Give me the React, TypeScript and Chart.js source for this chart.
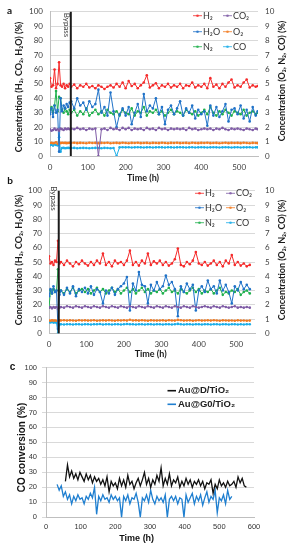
import React, { useEffect, useRef } from 'react';
import { Chart, registerables } from 'chart.js';
Chart.register(...registerables);

// ---------------- tick labels ----------------
const xTicksAB = [0, 100, 200, 300, 400, 500];
const xTicksC = [0, 100, 200, 300, 400, 500, 600];

// ---------------- Panel a data ----------------
const timeA = [
  0, 4, 8, 12, 16, 20, 24, 28, 32, 36, 40, 44, 48, 52,
  56, 64, 72, 80, 88, 96, 104, 112, 120,
  128, 136, 144, 152, 160, 168, 176, 184, 192,
  200, 208, 216, 224, 232, 240, 248, 256, 264,
  272, 280, 288, 296, 304, 312, 320, 328, 336,
  344, 352, 360, 368, 376, 384, 392, 400, 408,
  416, 424, 432, 440, 448, 456, 464, 472, 480,
  488, 496, 504, 512, 520, 528, 536, 544, 549,
];
const h2A = [
  54, 48, 49, 60, 47, 50, 65, 49, 48, 50, 47, 49, 48, 50,
  48, 49.5, 47, 49, 48, 50, 47.5, 48.5, 47,
  49, 48, 46.5, 48, 49, 47.5, 50, 48, 51,
  47, 52, 48.5, 50, 47, 49, 51, 56, 47.5,
  49, 50.5, 47, 49, 48, 50, 47.5, 49, 48,
  50, 47, 49, 48.5, 51, 47.5, 49, 48, 50,
  47, 54, 48, 49.5, 47, 50, 48, 51, 53,
  47.5, 49, 48, 51, 53, 47.5, 49, 48, 48.5,
];
const co2A = [
  18.5, 17.5, 18, 19, 18, 18.5, 17.5, 19, 18.5, 18, 19, 18.5, 19, 18.5,
  19, 18.5, 19.5, 18.5, 19, 18, 19, 18.5, 19,
  0, 18.5, 19, 18, 19.5, 18.5, 19, 18, 19.5,
  18.5, 19.5, 18, 19, 18.5, 19, 18, 19.5, 18.5,
  19, 18, 19.5, 18.5, 19, 18, 19, 18.5, 19,
  18.5, 19, 18, 19.5, 18.5, 19, 18, 18.5, 19,
  18.5, 19, 18, 19, 18.5, 19.5, 18.5, 18, 19,
  18.5, 19, 18.5, 18, 19, 18.5, 18, 19, 18.5,
];
const h2oA = [
  29, 33, 27, 35, 30, 32, 3, 40, 31, 35, 33, 36, 34, 37,
  38, 33, 40, 35, 37, 32, 38, 34, 36,
  46, 30, 34, 28, 44, 31, 20, 29, 33,
  28, 34, 22, 30, 36, 27, 43, 31, 35,
  33, 40, 29, 34, 22, 32, 35, 29, 33,
  38, 28, 33, 30, 35, 26, 32, 29, 31,
  21, 35, 28, 34, 27, 31, 36, 24, 32,
  33, 29, 35, 26, 32, 24, 34, 28, 31,
];
const o2A = [
  0.9, 0.92, 0.88, 0.9, 0.95, 0.85, 1.0, 0.88, 0.92, 0.9, 0.91, 0.89, 0.9, 0.92,
  0.9, 0.92, 0.89, 0.91, 0.9, 0.88, 0.92, 0.9, 0.91,
  0.89, 0.91, 0.9, 0.92, 0.88, 0.9, 0.91, 0.89, 0.92,
  0.9, 0.88, 0.91, 0.9, 0.92, 0.89, 0.9, 0.91, 0.88,
  0.91, 0.9, 0.89, 0.92, 0.9, 0.88, 0.91, 0.9, 0.92,
  0.89, 0.9, 0.91, 0.88, 0.92, 0.9, 0.89, 0.91, 0.9,
  0.92, 0.89, 0.9, 0.91, 0.88, 0.9, 0.92, 0.89, 0.91,
  0.9, 0.91, 0.89, 0.92, 0.9, 0.88, 0.91, 0.9, 0.89,
];
const n2A = [
  3.2, 3.4, 3.0, 3.5, 4.5, 3.1, 4.1, 4.0, 3.2, 3.0, 3.3, 3.1, 2.9, 3.2,
  3.0, 3.2, 2.8, 3.1, 2.9, 3.3, 2.8, 3.0, 3.2,
  2.9, 3.1, 2.8, 3.2, 3.0, 2.9, 3.1, 2.8, 3.2,
  3.0, 2.9, 3.3, 2.8, 3.1, 3.0, 3.4, 2.8, 3.1,
  3.0, 3.2, 2.9, 3.1, 2.8, 3.0, 3.2, 2.9, 3.1,
  3.0, 2.8, 3.2, 3.0, 2.9, 3.1, 2.8, 3.0, 3.2,
  2.9, 3.4, 3.0, 2.8, 3.1, 2.9, 3.2, 3.0, 2.8,
  3.1, 3.0, 2.9, 3.2, 2.8, 3.0, 3.1, 2.9, 3.0,
];
const coA = [
  0.75, 0.78, 0.72, 0.8, 0.76, 0.74, 1.3, 0.3, 0.55, 0.56, 0.54, 0.55, 0.56, 0.55,
  0.55, 0.56, 0.54, 0.55, 0.56, 0.55, 0.54, 0.55, 0.56,
  0.55, 0.54, 0.56, 0.55, 0.54, 0.55, 0, 0.6, 0.61,
  0.6, 0.61, 0.59, 0.6, 0.61, 0.6, 0.59, 0.6, 0.61,
  0.59, 0.6, 0.61, 0.6, 0.59, 0.61, 0.6, 0.59, 0.6,
  0.61, 0.6, 0.59, 0.6, 0.61, 0.59, 0.6, 0.61, 0.6,
  0.59, 0.6, 0.61, 0.6, 0.59, 0.6, 0.61, 0.6, 0.59,
  0.6, 0.61, 0.59, 0.6, 0.6, 0.61, 0.59, 0.6, 0.6,
];

// ---------------- Panel b data ----------------
const timeB = [
  0, 4, 8, 12, 16, 20, 24, 28,
  32, 40, 48, 56, 64, 72, 80, 88,
  96, 104, 112, 120, 128, 136, 144, 152,
  160, 168, 176, 184, 192, 200, 208, 216,
  224, 232, 240, 248, 256, 264, 272, 280,
  288, 296, 304, 312, 320, 328, 336, 344,
  352, 360, 368, 376, 384, 392, 400, 408,
  416, 424, 432, 440, 448, 456, 464, 472,
  480, 488, 496, 504, 512, 520, 528, 536,
];
const h2B = [
  54, 49, 50, 48, 51, 50, 65, 49,
  50, 48, 51, 49, 47, 50, 48.5, 51,
  49, 47.5, 50, 48, 51, 49, 56, 48,
  50, 47, 51, 49, 50, 48, 51, 58,
  48, 50, 47.5, 51, 49, 56, 48, 50.5,
  49, 51, 48, 50, 47.5, 49, 52, 59.5,
  48, 47, 50, 48.5, 51, 57, 49, 48,
  50, 47.5, 49, 51, 48, 50, 47, 51,
  49, 55, 48, 50, 47.5, 49, 47, 48,
];
const co2B = [
  18, 18.5, 17.5, 18.5, 18, 18.5, 17, 18,
  18.5, 18, 19, 18.5, 18, 19, 18.5, 18,
  19, 18.5, 18, 19, 18.5, 18, 19, 18.5,
  18, 19, 18.5, 18, 19, 18.5, 18, 19,
  18.5, 18, 19, 18.5, 18, 19, 18.5, 18,
  19, 18.5, 18, 19, 18.5, 18, 19, 18.5,
  18, 19, 18.5, 18, 19, 18.5, 18, 18.5,
  19, 18.5, 18, 19, 18.5, 18, 19, 18.5,
  18, 18.5, 19, 18, 18.5, 18, 18.5, 18,
];
const h2oB = [
  26, 31, 28, 33, 29, 30, 3, 27,
  30, 27, 32, 28, 33, 26, 31, 29,
  32, 28, 33, 27, 31, 29, 21, 30,
  28, 32, 27, 31, 33, 35, 39.5, 16,
  35, 30, 43, 34, 33, 21, 34, 30,
  36, 31, 33, 40.5, 34, 36, 31, 12,
  33, 29, 35, 31, 34, 16, 30, 33,
  29, 37, 31, 33, 28, 37, 30, 34,
  29, 21, 33, 30, 36, 31, 34, 31,
];
const o2B = [
  0.9, 0.88, 0.91, 0.89, 0.9, 0.88, 0.9, 0.91,
  0.9, 0.92, 0.89, 0.91, 0.9, 0.88, 0.92, 0.9,
  0.91, 0.89, 0.9, 0.92, 0.88, 0.9, 0.91, 0.89,
  0.92, 0.9, 0.88, 0.91, 0.9, 0.92, 0.89, 0.95,
  0.9, 0.91, 0.89, 0.92, 0.9, 0.88, 0.91, 0.9,
  0.89, 0.9, 0.91, 0.88, 0.92, 0.9, 0.89, 0.94,
  0.92, 0.89, 0.9, 0.91, 0.88, 0.9, 0.92, 0.89,
  0.9, 0.91, 0.89, 0.92, 0.9, 0.88, 0.91, 0.9,
  0.89, 0.9, 0.88, 0.91, 0.89, 0.9, 0.88, 0.89,
];
const n2B = [
  1.8, 3.0, 2.8, 3.1, 2.9, 3.0, 4.5, 2.9,
  3.0, 2.8, 3.1, 2.9, 3.2, 2.8, 3.0, 3.1,
  2.9, 3.1, 2.8, 3.0, 3.2, 2.9, 3.1, 2.8,
  3.0, 3.2, 2.9, 3.1, 2.8, 3.0, 3.2, 2.9,
  3.1, 2.8, 3.0, 3.2, 2.9, 3.1, 2.8, 3.0,
  2.9, 3.1, 2.8, 3.0, 3.2, 2.9, 3.0, 2.8,
  3.1, 2.9, 2.8, 3.0, 3.2, 2.9, 3.1, 2.8,
  3.0, 2.9, 3.1, 2.8, 3.0, 3.2, 2.7, 2.9,
  2.8, 3.0, 2.9, 3.1, 2.7, 2.9, 3.0, 2.8,
];
const coB = [
  0.78, 0.76, 0.8, 0.75, 0.77, 0.74, 0, 0.62,
  0.63, 0.62, 0.64, 0.63, 0.62, 0.64, 0.63, 0.62,
  0.64, 0.63, 0.62, 0.64, 0.63, 0.65, 0.62, 0.63,
  0.64, 0.62, 0.63, 0.64, 0.62, 0.63, 0.65, 0.64,
  0.63, 0.62, 0.64, 0.63, 0.62, 0.64, 0.63, 0.62,
  0.64, 0.63, 0.62, 0.64, 0.63, 0.62, 0.64, 0.66,
  0.63, 0.62, 0.64, 0.63, 0.62, 0.64, 0.63, 0.62,
  0.64, 0.63, 0.62, 0.63, 0.64, 0.62, 0.63, 0.64,
  0.62, 0.63, 0.64, 0.62, 0.63, 0.62, 0.64, 0.63,
];

// ---------------- Panel c data ----------------
const timeCD = [
  56, 62, 68, 74, 80, 86, 92, 98,
  104, 110, 116, 122, 128, 134, 140, 146,
  152, 158, 164, 170, 176, 182, 188, 194,
  200, 206, 212, 218, 224, 230, 236, 242,
  248, 254, 260, 266, 272, 278, 284, 290,
  296, 302, 308, 314, 320, 326, 332, 338,
  344, 350, 356, 362, 368, 374, 380, 386,
  392, 398, 404, 410, 416, 422, 428, 434,
  440, 446, 452, 458, 464, 470, 476, 482,
  488, 494, 500, 506, 512, 518, 524, 530,
  536, 542, 548, 554, 560, 566, 572, 578,
];
const convAuD = [
  24, 35, 27, 31, 26, 29, 25, 30,
  27, 24, 29, 25, 28, 23, 27, 24,
  26, 22, 25, 21, 27, 17, 24, 21,
  23, 19, 26, 21, 25, 20, 28, 22,
  24, 19, 23, 26, 21, 25, 30, 22,
  26, 20, 25, 22, 28, 24, 33, 21,
  26, 22, 29, 21, 25, 23, 27, 20,
  24, 21, 26, 22, 25, 20, 24, 22,
  25, 21, 24, 19, 23, 22, 25, 16,
  22, 19, 25, 21, 23, 20, 24, 21,
  22, 24, 20, 27, 23, 26, 21, 20,
];
const timeCG = [
  32, 38, 44, 50, 56, 62, 68, 74,
  80, 86, 92, 98, 104, 110, 116, 122,
  128, 134, 140, 146, 152, 158, 164, 170,
  176, 182, 188, 194, 200, 206, 212, 218,
  224, 230, 236, 242, 248, 254, 260, 266,
  272, 278, 284, 290, 296, 302, 308, 314,
  320, 326, 332, 338, 344, 350, 356, 362,
  368, 374, 380, 386, 392, 398, 404, 410,
  416, 422, 428, 434, 440, 446, 452, 458,
  464, 470, 476, 482, 488, 494, 500, 506,
  512, 518, 524, 530, 536,
];
const convAuG0 = [
  22, 18, 21, 14, 17, 12, 15, 9,
  14, 11, 15, 12, 13, 9, 14, 12,
  16, 13, 20, 2, 14, 11, 15, 12,
  13, 10, 15, 12, 14, 11, 13, 0,
  14, 11, 15, 9, 13, 12, 16, 10,
  0, 13, 11, 15, 10, 18, 12, 9,
  14, 11, 13, 10, 15, 0, 12, 14,
  11, 14, 9, 13, 12, 0, 15, 10,
  13, 16, 9, 14, 11, 15, 8, 13,
  17, 10, 14, 12, 18, 3, 13, 11,
  15, 9, 18, 12, 14,
];

// ---------------- helpers ----------------
const FAB = 'Lato, "DejaVu Sans", sans-serif';
const FC = '"Liberation Sans", Arial, sans-serif';
const COL = {
  h2: '#f52a2a', co2: '#7f5ca6', h2o: '#1f72c8', o2: '#f27c22', n2: '#1fb04c', co: '#1caee8',
};

const pts = (xs: number[], ys: number[]) => ys.map((y, i) => ({ x: xs[i], y }));

function txt(ctx: CanvasRenderingContext2D, s: string, x: number, y: number, font: string, color = '#222', rot = 0, align: CanvasTextAlign = 'center') {
  ctx.save();
  ctx.translate(x, y);
  if (rot) ctx.rotate(rot);
  ctx.font = font;
  ctx.fillStyle = color;
  ctx.textAlign = align;
  ctx.textBaseline = 'middle';
  ctx.fillText(s, 0, 0);
  ctx.restore();
}

interface ConcSpec {
  times: number[]; h2: number[]; co2: number[]; h2o: number[]; o2: number[]; n2: number[]; co: number[];
  bypass: number; xMax: number; letter: string; letterXY: [number, number];
  padTop: number; leftW: number; rightW: number; bottomH: number;
  xTickPad: number; yTickPad: number; y2TickPad: number;
  leftTitleXY: [number, number]; rightTitleXY: [number, number]; bottomTitleXY: [number, number];
  bypassDx: number; bypassY: number;
  legX: [number, number]; legY: [number, number, number];
}

function concConfig(P: ConcSpec): any {
  const ds = (label: string, data: number[], color: string, axis: string) => ({
    label, data: pts(P.times, data), borderColor: color, backgroundColor: color,
    pointBackgroundColor: color, pointBorderColor: color, borderWidth: 1,
    pointRadius: 1.3, pointBorderWidth: 0, pointHoverRadius: 0, yAxisID: axis, tension: 0,
  });
  const legend = [
    ['H₂', COL.h2, 0, 0], ['CO₂', COL.co2, 1, 0],
    ['H₂O', COL.h2o, 0, 1], ['O₂', COL.o2, 1, 1],
    ['N₂', COL.n2, 0, 2], ['CO', COL.co, 1, 2],
  ] as [string, string, number, number][];
  const annot = {
    id: 'annot',
    afterDatasetsDraw(chart: any) {
      const { ctx, chartArea, scales } = chart;
      const xb = scales.x.getPixelForValue(P.bypass);
      ctx.save();
      ctx.strokeStyle = '#1b1b1b';
      ctx.lineWidth = 2;
      ctx.beginPath();
      ctx.moveTo(xb, chartArea.top);
      ctx.lineTo(xb, chartArea.bottom);
      ctx.stroke();
      ctx.restore();
      txt(ctx, 'Bypass', xb + P.bypassDx, P.bypassY, `8px ${FAB}`, '#404040', Math.PI / 2);
    },
    afterDraw(chart: any) {
      const { ctx } = chart;
      txt(ctx, P.letter, P.letterXY[0], P.letterXY[1], `bold 10px ${FAB}`, '#111');
      txt(ctx, 'Concentration (H₂, CO₂, H₂O) (%)', P.leftTitleXY[0], P.leftTitleXY[1], `bold 9px ${FAB}`, '#1a1a1a', -Math.PI / 2);
      txt(ctx, 'Concentration (O₂, N₂, CO) (%)', P.rightTitleXY[0], P.rightTitleXY[1], `bold 9px ${FAB}`, '#1a1a1a', -Math.PI / 2);
      txt(ctx, 'Time (h)', P.bottomTitleXY[0], P.bottomTitleXY[1], `bold 9px ${FAB}`, '#1a1a1a');
      for (const [label, color, c, r] of legend) {
        const x0 = P.legX[c];
        const y = P.legY[r];
        ctx.save();
        ctx.strokeStyle = color;
        ctx.fillStyle = color;
        ctx.lineWidth = 1;
        ctx.globalAlpha = 0.8;
        ctx.beginPath();
        ctx.moveTo(x0, y);
        ctx.lineTo(x0 + 9, y);
        ctx.stroke();
        ctx.beginPath();
        ctx.arc(x0 + 4.5, y, 1.3, 0, Math.PI * 2);
        ctx.fill();
        ctx.restore();
        txt(ctx, label, x0 + 10, y, `9px ${FAB}`, '#333', 0, 'left');
      }
    },
  };
  const tickFont = { family: FAB, size: 8 };
  return {
    type: 'line',
    data: {
      datasets: [
        ds('H₂', P.h2, COL.h2, 'y'),
        ds('CO₂', P.co2, COL.co2, 'y'),
        ds('H₂O', P.h2o, COL.h2o, 'y'),
        ds('O₂', P.o2, COL.o2, 'y2'),
        ds('N₂', P.n2, COL.n2, 'y2'),
        ds('CO', P.co, COL.co, 'y2'),
      ],
    },
    options: {
      responsive: false, animation: false, events: [],
      layout: { padding: { top: P.padTop, left: 0, right: 0, bottom: 0 } },
      plugins: { legend: { display: false }, tooltip: { enabled: false }, title: { display: false } },
      scales: {
        x: {
          type: 'linear', min: 0, max: P.xMax,
          afterBuildTicks: (s: any) => { s.ticks = xTicksAB.map((v) => ({ value: v })); },
          afterFit: (s: any) => { s.height = P.bottomH; },
          grid: { display: false, drawTicks: false },
          border: { display: true, color: '#bfbfbf', width: 1 },
          ticks: { padding: P.xTickPad, color: '#404040', font: tickFont, maxRotation: 0, autoSkip: false },
        },
        y: {
          position: 'left', min: 0, max: 100,
          afterFit: (s: any) => { s.width = P.leftW; },
          grid: { color: '#d9d9d9', drawTicks: false, lineWidth: 1 },
          border: { display: true, color: '#bfbfbf', width: 1 },
          ticks: { stepSize: 10, padding: P.yTickPad, color: '#404040', font: tickFont, autoSkip: false },
        },
        y2: {
          position: 'right', min: 0, max: 10,
          afterFit: (s: any) => { s.width = P.rightW; },
          grid: { drawOnChartArea: false, drawTicks: false },
          border: { display: false },
          ticks: { stepSize: 1, padding: P.y2TickPad, color: '#404040', font: tickFont, autoSkip: false },
        },
      },
    },
    plugins: [annot],
  };
}

function convConfig(): any {
  const annot = {
    id: 'annotC',
    afterDraw(chart: any) {
      const { ctx, scales, chartArea } = chart;
      for (const v of xTicksC) {
        txt(ctx, String(v), scales.x.getPixelForValue(v), chartArea.bottom + 10, `7.5px ${FC}`, '#333');
      }
      txt(ctx, 'c', 12.5, 9, `bold 10px ${FC}`, '#111');
      txt(ctx, 'CO conversion (%)', 22.5, 89.5, `bold 10px ${FC}`, '#111', -Math.PI / 2);
      txt(ctx, 'Time (h)', 136.7, 181, `bold 9px ${FC}`, '#111');
      const leg: [string, string, number][] = [['Au@D/TiO₂', '#111111', 32.7], ['Au@G0/TiO₂', '#1f7fd0', 46.3]];
      for (const [label, color, y] of leg) {
        ctx.save();
        ctx.strokeStyle = color;
        ctx.lineWidth = 1.6;
        ctx.beginPath();
        ctx.moveTo(167.5, y);
        ctx.lineTo(176, y);
        ctx.stroke();
        ctx.restore();
        txt(ctx, label, 178, y, `bold 9.5px ${FC}`, '#222', 0, 'left');
      }
    },
  };
  const tickFont = { family: FC, size: 7.5 };
  return {
    type: 'line',
    data: {
      datasets: [
        { label: 'Au@D/TiO₂', data: pts(timeCD, convAuD), borderColor: '#111111', borderWidth: 1.3, pointRadius: 0, tension: 0 },
        { label: 'Au@G0/TiO₂', data: pts(timeCG, convAuG0), borderColor: '#1f7fd0', borderWidth: 1.3, pointRadius: 0, tension: 0 },
      ],
    },
    options: {
      responsive: false, animation: false, events: [],
      layout: { padding: { top: 8.7, left: 0, right: 38, bottom: 0 } },
      plugins: { legend: { display: false }, tooltip: { enabled: false } },
      scales: {
        x: {
          type: 'linear', min: 0, max: 600,
          afterBuildTicks: (s: any) => { s.ticks = xTicksC.map((v) => ({ value: v })); },
          afterFit: (s: any) => { s.height = 32.7; },
          grid: { display: false, drawTicks: false },
          border: { display: true, color: '#bfbfbf', width: 1 },
          ticks: { display: false },
        },
        y: {
          position: 'left', min: 0, max: 100,
          afterFit: (s: any) => { s.width = 46; },
          grid: { color: '#d9d9d9', drawTicks: true, tickLength: 4 },
          border: { display: true, color: '#bfbfbf', width: 1 },
          ticks: { stepSize: 10, padding: 5, color: '#333', font: tickFont, autoSkip: false },
        },
      },
    },
    plugins: [annot],
  };
}

function Panel({ top, height, build }: { top: number; height: number; build: () => any }) {
  const ref = useRef<HTMLCanvasElement>(null);
  useEffect(() => {
    const chart = new Chart(ref.current as HTMLCanvasElement, build());
    return () => chart.destroy();
  }, []);
  return (
    <canvas ref={ref} width={292} height={height}
      style={{ position: 'absolute', left: 0, top, width: 292, height, display: 'block' }} />
  );
}

export default function App() {
  const specA: ConcSpec = {
    times: timeA, h2: h2A, co2: co2A, h2o: h2oA, o2: o2A, n2: n2A, co: coA,
    bypass: 55, xMax: 550, letter: 'a', letterXY: [9.5, 11],
    padTop: 11, leftW: 50, rightW: 34, bottomH: 29,
    xTickPad: 7, yTickPad: 7, y2TickPad: 7,
    leftTitleXY: [19.5, 87], rightTitleXY: [282, 81], bottomTitleXY: [143, 178],
    bypassDx: -4.5, bypassY: 25,
    legX: [193, 223], legY: [15.7, 31.7, 46.7],
  };
  const specB: ConcSpec = {
    times: timeB, h2: h2B, co2: co2B, h2o: h2oB, o2: o2B, n2: n2B, co: coB,
    bypass: 26, xMax: 550, letter: 'b', letterXY: [10, 5],
    padTop: 9.3, leftW: 49, rightW: 37, bottomH: 26.7,
    xTickPad: 6.5, yTickPad: 7, y2TickPad: 10,
    leftTitleXY: [19.5, 84], rightTitleXY: [282, 84], bottomTitleXY: [150.7, 178.3],
    bypassDx: -5.5, bypassY: 22.5,
    legX: [195, 226], legY: [17.3, 31.7, 46.7],
  };
  return (
    <div style={{ position: 'fixed', left: 0, top: 0, width: 292, height: 550, background: '#fff' }}>
      <Panel top={0} height={185} build={() => concConfig(specA)} />
      <Panel top={176} height={184} build={() => concConfig(specB)} />
      <Panel top={358} height={192} build={convConfig} />
    </div>
  );
}
